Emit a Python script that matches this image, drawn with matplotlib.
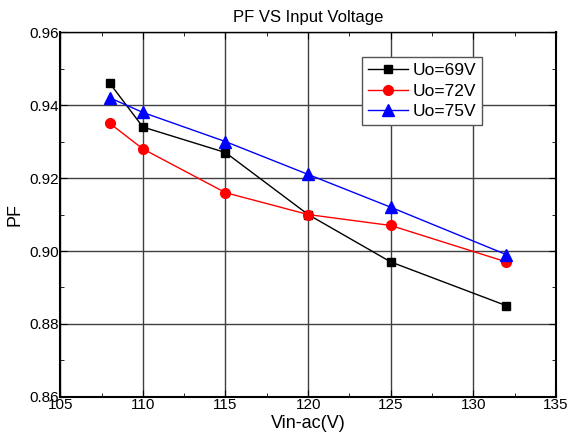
import matplotlib
matplotlib.use('Agg')
from matplotlib import pyplot as plt
from matplotlib.ticker import MultipleLocator

plt.rcParams['font.family'] = ['Liberation Sans', 'DejaVu Sans']

vin = [108, 110, 115, 120, 125, 132]
pf_69 = [0.946, 0.934, 0.927, 0.910, 0.897, 0.885]
pf_72 = [0.935, 0.928, 0.916, 0.910, 0.907, 0.897]
pf_75 = [0.942, 0.938, 0.930, 0.921, 0.912, 0.899]

fig = plt.figure(figsize=(5.68, 4.41), dpi=100)
ax = fig.add_axes([0.106, 0.100, 0.873, 0.827])

ax.plot(vin, pf_69, color='black', marker='s', markersize=6, lw=1, label='Uo=69V', zorder=3)
ax.plot(vin, pf_72, color='red', marker='o', markersize=7, lw=1, label='Uo=72V', zorder=3)
ax.plot(vin, pf_75, color='blue', marker='^', markersize=8, lw=1, label='Uo=75V', zorder=3)

ax.set_xlim(105, 135)
ax.set_ylim(0.86, 0.96)
ax.xaxis.set_major_locator(MultipleLocator(5))
ax.xaxis.set_minor_locator(MultipleLocator(2.5))
ax.set_yticks([0.86, 0.88, 0.90, 0.92, 0.94, 0.96])
ax.set_yticklabels(['0.86', '0.88', '0.90', '0.92', '0.94', '0.96'])
ax.yaxis.set_minor_locator(MultipleLocator(0.01))

ax.grid(True, which='major', color='#404040', lw=1, zorder=0)
ax.tick_params(which='both', direction='in', labelsize=11, pad=1,
               top=True, right=True)
ax.tick_params(which='major', length=5)
ax.tick_params(which='minor', length=3)
for side in ['left', 'bottom', 'right']:
    ax.spines[side].set_linewidth(1.5)
ax.spines['top'].set_linewidth(1)

ax.set_title('PF VS Input Voltage', fontsize=12, pad=7)
ax.set_xlabel('Vin-ac(V)', fontsize=13, labelpad=2)
ax.set_ylabel('PF', fontsize=13, labelpad=4)

leg = ax.legend(loc='upper left', bbox_to_anchor=(0.609, 0.932), borderaxespad=0,
                fontsize=12.5, fancybox=False, edgecolor='#555555', framealpha=1,
                handlelength=2.3, borderpad=0.35, labelspacing=0.3, handletextpad=0.25)
leg.get_frame().set_linewidth(1)

fig.savefig('out.png', dpi=100)
